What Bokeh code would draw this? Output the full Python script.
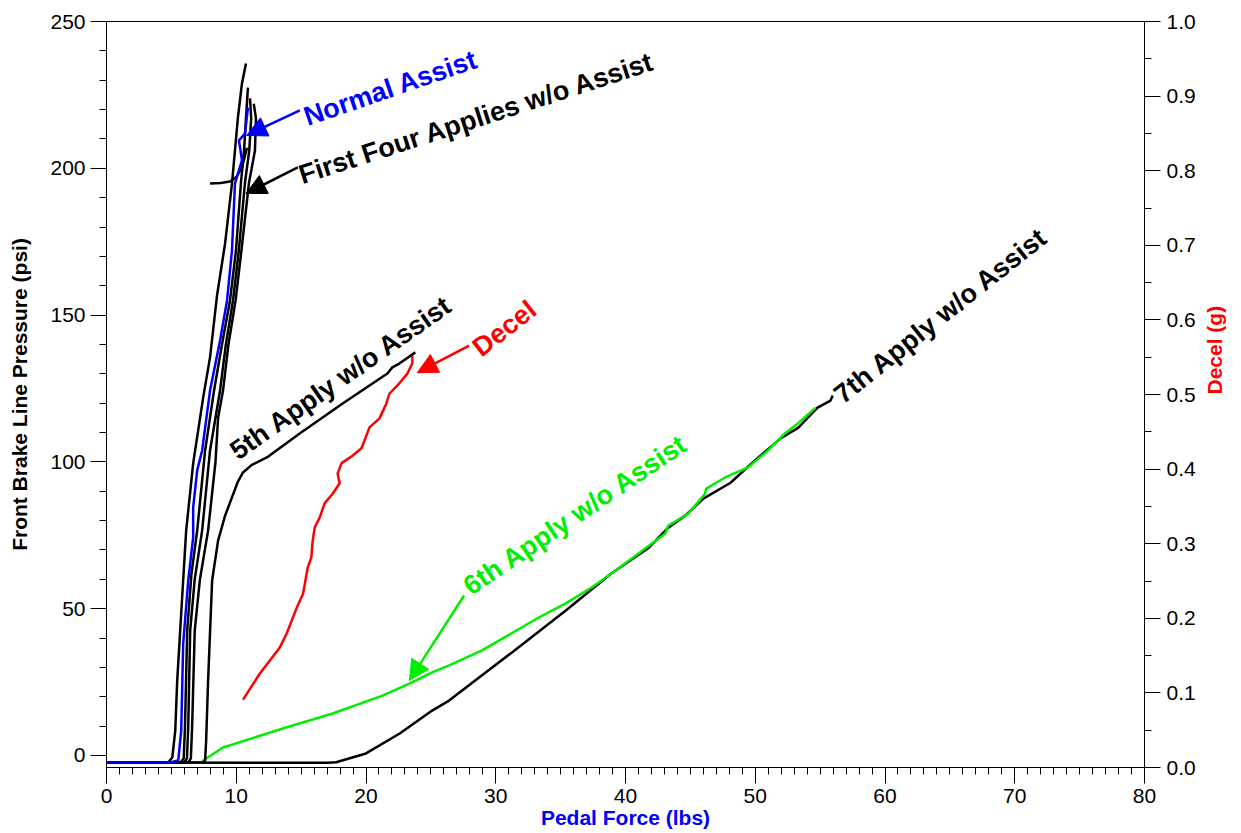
import math
from bokeh.plotting import figure
from bokeh.models import (Range1d, LinearAxis, FixedTicker, PrintfTickFormatter,
                          Arrow, NormalHead, ColumnDataSource)
from bokeh.core.properties import value
from bokeh.embed import file_html
from bokeh.resources import INLINE

# ---------------- data ----------------
x_ticks = [0, 10, 20, 30, 40, 50, 60, 70, 80]
psi_ticks = [0, 50, 100, 150, 200, 250]
g_ticks = [0.0, 0.1, 0.2, 0.3, 0.4, 0.5, 0.6, 0.7, 0.8, 0.9, 1.0]

normal_x = [0, 4.9, 5.53, 5.76, 5.91, 6.30, 6.68, 6.68, 6.99, 7.37, 7.98, 8.75, 9.29, 9.67, 9.90, 10.44, 10.21, 10.67, 10.90]
normal_y = [-2.4, -2.4, -1.7, 8.5, 38.1, 59.6, 74.3, 84.5, 97.1, 103.9, 124.3, 141.3, 155.0, 172.0, 194.8, 202.7, 209.5, 211.8, 220.7]

apply1_x = [0, 4.76, 5.07, 5.30, 5.45, 5.83, 6.14, 6.68, 7.45, 7.98, 8.52, 9.14, 9.67, 10.13, 10.44, 10.75]
apply1_y = [-2.4, -2.4, -0.7, 8.5, 25.5, 53.8, 76.6, 99.5, 121.9, 135.6, 156.7, 174.4, 194.8, 217.3, 228.9, 235.7]

apply2_x = [0, 5.7, 5.95, 6.05, 6.22, 6.55, 6.99, 7.6, 8.29, 8.9, 9.52, 9.98, 10.36, 10.6, 10.75, 10.9]
apply2_y = [-2.4, -2.4, -1.0, 10, 42.6, 62, 76.6, 103.9, 124.3, 140, 155, 172, 195, 206, 217, 227.5]

apply3_x = [0, 6.0, 6.2, 6.3, 6.45, 6.8, 7.37, 7.98, 8.75, 9.2, 9.75, 10.2, 10.67, 11.0, 11.15, 11.06]
apply3_y = [-2.4, -2.4, -1.0, 10, 42.6, 60, 76.6, 103.9, 124.3, 140, 155, 172, 195, 206, 217, 223.8]

apply4_x = [0, 6.3, 6.5, 6.6, 6.8, 7.2, 7.83, 8.4, 8.6, 8.98, 9.4, 9.95, 10.4, 10.98, 11.44, 11.52, 11.35]
apply4_y = [-2.4, -2.4, -1.0, 10, 42.6, 60, 76.6, 100, 115, 124.3, 140, 155, 172, 195, 206, 217, 222]

hook_x = [7.98, 8.8, 9.52, 10.0, 10.44, 10.83]
hook_y = [194.8, 195.0, 195.5, 197.0, 200.3, 207.0]

apply5_x = [0, 7.5, 7.60, 7.68, 7.83, 8.14, 8.6, 9.14, 9.67, 10.1, 10.52, 11.2, 12.36, 14.89, 18.20, 20.50, 21.65, 22.03, 22.57, 23.80]
apply5_y = [-2.4, -2.4, -1.7, 5.1, 25.5, 59.6, 73.2, 81.7, 87.9, 93.0, 96.4, 99.0, 101.5, 109.7, 119.9, 126.7, 130.1, 132.2, 133.5, 137.3]

decel_x = [10.52, 11.82, 13.36, 13.87, 14.66, 15.15, 15.51, 15.79, 15.89, 16.05, 16.43, 16.81, 17.43, 17.97, 17.81, 18.12, 18.96, 19.65, 19.88, 20.27, 21.04, 21.57, 21.80, 22.57, 23.19, 23.57, 23.57]
decel_g = [0.091, 0.126, 0.161, 0.179, 0.214, 0.233, 0.268, 0.282, 0.304, 0.322, 0.335, 0.354, 0.367, 0.381, 0.394, 0.408, 0.418, 0.428, 0.438, 0.456, 0.468, 0.488, 0.501, 0.515, 0.528, 0.542, 0.552]

apply6_x = [0, 7.3, 7.45, 8.98, 13.59, 17.43, 21.27, 23.34, 25.1, 26.41, 28.94, 33.32, 35.39, 37.39, 39.23, 41.0, 43.07, 43.3, 44.84, 46.14, 46.22, 47.68, 49.44, 50.98, 52.28, 53.28, 54.66]
apply6_y = [-2.4, -2.4, -1.7, 2.7, 9.2, 14.3, 20.4, 24.5, 28.3, 30.7, 35.8, 47.0, 51.8, 57.2, 63.0, 68.8, 75.6, 78.3, 82.4, 89.2, 90.9, 94.7, 98.1, 103.9, 109.7, 113.1, 118.5]

apply7_x = [0, 17.0, 17.7, 20.0, 22.6, 25.1, 26.4, 31.25, 35.4, 38.9, 41.8, 43.3, 44.6, 46.0, 48.1, 49.7, 52.0, 53.3, 54.8, 55.8, 55.97]
apply7_y = [-2.4, -2.5, -2.3, 0.7, 7.5, 15.3, 18.7, 35.1, 49.4, 62.0, 70.8, 77.6, 81.7, 87.5, 92.9, 99.4, 108.2, 111.6, 118.5, 120.9, 122.6]

label_text = ["Normal Assist", "First Four Applies w/o Assist", "5th Apply w/o Assist",
              "Decel", "6th Apply w/o Assist", "7th Apply w/o Assist"]
label_x = [15.28, 14.89, 9.75, 28.48, 27.72, 56.35]
label_y = [217.3, 197.5, 102.9, 137.9, 56.9, 121.9]
label_angle = [19, 18, 35, 38, 34, 38.5]
label_color = ["#0000FF", "#000000", "#000000", "#FF0000", "#00EE00", "#000000"]

arrow_x0 = [14.9, 14.74, 27.95, 27.56]
arrow_y0 = [219.7, 200.3, 139.6, 54.5]
arrow_x1 = [10.8, 10.75, 23.95, 23.34]
arrow_y1 = [211.2, 191.4, 130.4, 25.5]
arrow_color = ["#0000FF", "#000000", "#FF0000", "#00EE00"]

# ---------------- figure ----------------
FONT = "Liberation Sans"
W, H = 1240, 833
p = figure(width=W, height=H, x_range=Range1d(0, 80), y_range=Range1d(-4.09, 250),
           output_backend="svg", toolbar_location=None,
           min_border_left=106, min_border_right=W - 1148, min_border_top=21,
           min_border_bottom=H - 767)
p.extra_y_ranges = {"decel": Range1d(0, 1)}
p.xgrid.visible = False
p.ygrid.visible = False
p.outline_line_color = "black"
p.outline_line_width = 1
p.background_fill_color = "white"
p.border_fill_color = "white"

right_axis = LinearAxis(y_range_name="decel")
p.add_layout(right_axis, "right")

xa = p.xaxis[0]
ya = p.yaxis[0]
xa.ticker = FixedTicker(ticks=x_ticks, minor_ticks=list(range(0, 81)))
ya.ticker = FixedTicker(ticks=psi_ticks, minor_ticks=list(range(0, 251, 10)))
right_axis.ticker = FixedTicker(ticks=g_ticks, minor_ticks=[i * 0.05 for i in range(21)])
right_axis.formatter = PrintfTickFormatter(format="%.1f")

for ax in (xa, ya, right_axis):
    ax.axis_line_color = "black"
    ax.axis_line_width = 1
    ax.major_tick_in = 0
    ax.major_tick_out = 16
    ax.minor_tick_in = 0
    ax.minor_tick_out = 7
    ax.major_tick_line_color = "black"
    ax.minor_tick_line_color = "black"
    ax.major_label_text_font = FONT
    ax.major_label_text_font_size = "21px"
    ax.major_label_text_color = "black"
    ax.axis_label_text_font = FONT
    ax.axis_label_text_font_size = "21px"
    ax.axis_label_text_font_style = "bold"

xa.axis_label = "Pedal Force (lbs)"
xa.axis_label_text_color = "#0000FF"
xa.major_label_standoff = 5
xa.axis_label_standoff = 0
ya.axis_label = "Front Brake Line Pressure (psi)"
ya.axis_label_text_color = "black"
ya.major_label_standoff = 5
ya.axis_label_standoff = 16
right_axis.axis_label = "Decel (g)"
right_axis.axis_label_text_color = "#FF0000"
right_axis.major_label_standoff = 6
right_axis.axis_label_standoff = 16
right_axis.axis_label_orientation = math.pi / 2   # read bottom to top, as in the reference

LW = 2.5
p.line(apply7_x, apply7_y, line_color="black", line_width=LW)
p.line(apply6_x, apply6_y, line_color="#00EE00", line_width=LW)
for xs, ys in ((apply1_x, apply1_y), (apply2_x, apply2_y), (apply3_x, apply3_y),
               (apply4_x, apply4_y), (hook_x, hook_y), (apply5_x, apply5_y)):
    p.line(xs, ys, line_color="black", line_width=LW)
p.line(normal_x, normal_y, line_color="#0000FF", line_width=LW)
p.line(decel_x, decel_g, line_color="#FF0000", line_width=LW, y_range_name="decel")

for x0, y0, x1, y1, c in zip(arrow_x0, arrow_y0, arrow_x1, arrow_y1, arrow_color):
    p.add_layout(Arrow(x_start=x0, y_start=y0, x_end=x1, y_end=y1, line_color=c, line_width=2.5,
                       end=NormalHead(size=20, fill_color=c, line_color=c)))

src = ColumnDataSource(dict(x=label_x, y=label_y, text=label_text, angle=label_angle, color=label_color))
p.text(x="x", y="y", text="text", angle="angle", angle_units="deg", text_color="color", source=src,
       text_font=value(FONT), text_font_style="bold", text_font_size="27px",
       text_align="left", text_baseline="alphabetic")

open("out.html", "w").write(file_html(p, INLINE))
